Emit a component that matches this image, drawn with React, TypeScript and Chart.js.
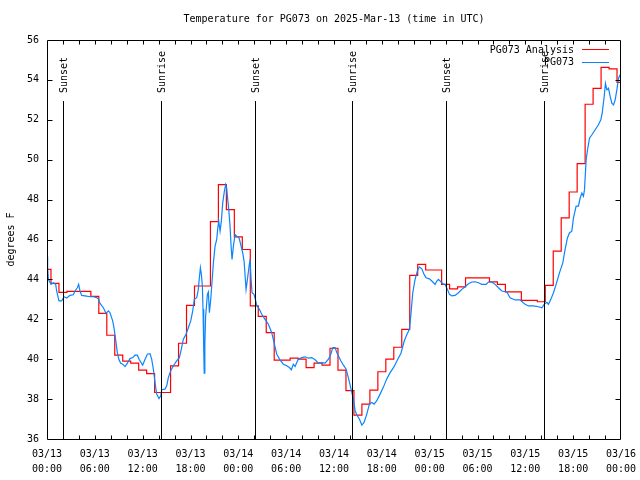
import { useEffect, useRef } from "react";
import { Chart, registerables } from "chart.js";

Chart.register(...registerables);

const TITLE = "Temperature for PG073 on 2025-Mar-13 (time in UTC)";
const Y_LABEL = "degrees F";
const ANALYSIS_LABEL = "PG073 Analysis";
const OBS_LABEL = "PG073";
const START_MONTH = "03";
const START_DAY = 13;

const Y_MIN = 36;
const Y_MAX = 56;
const X_MIN = 0;
const X_MAX = 72;

// Hourly analysis values (hour 0 .. 72 from 03/13 00:00 UTC)
const analysisTemps = [
  44.5, 43.8, 43.35, 43.4, 43.4, 43.4, 43.15, 42.3, 41.2, 40.2,
  39.9, 39.8, 39.45, 39.28, 38.33, 38.33, 39.67, 40.8, 42.7, 43.67,
  43.67, 46.9, 48.75, 47.5, 46.13, 45.5, 42.67, 42.15, 41.33, 39.95,
  39.95, 40.05, 40.0, 39.58, 39.8, 39.7, 40.55, 39.45, 38.42, 37.2,
  37.75, 38.45, 39.37, 40.0, 40.6, 41.5, 44.2, 44.75, 44.47, 44.47,
  43.75, 43.53, 43.63, 44.08, 44.08, 44.08, 43.88, 43.75, 43.37, 43.37,
  42.95, 42.95, 42.88, 43.7, 45.42, 47.08, 48.38, 49.8, 52.78, 53.58,
  54.63, 54.55, 53.88,
];

// Observations: hours since 03/13 00:00 UTC and temperatures
const obsHours = [
  0.0, 0.08, 0.17, 0.5, 0.8, 1.09, 1.21, 1.5, 1.84, 2.13, 2.47, 2.89, 3.3, 3.51, 3.8, 3.97,
  4.14, 4.35, 4.77, 5.4, 5.81, 6.15, 6.44, 6.65, 7.07, 7.4, 7.7, 7.9, 8.24, 8.4, 8.66, 8.82,
  9.03, 9.25, 9.5, 9.79, 10.08, 10.41, 10.75, 11.04, 11.33, 11.58, 12.0, 12.3, 12.59, 12.92,
  13.13, 13.34, 13.55, 13.76, 14.05, 14.27, 14.39, 14.8, 15.02, 15.22, 15.52, 15.85, 16.27,
  16.6, 16.85, 17.1, 17.44, 17.73, 18.03, 18.28, 18.48, 18.78, 18.98, 19.11, 19.24, 19.36,
  19.49, 19.57, 19.66, 19.72, 19.8, 19.9, 20.12, 20.24, 20.37, 20.54, 20.66, 20.87, 21.08,
  21.29, 21.42, 21.54, 21.71, 21.87, 22.04, 22.25, 22.42, 22.54, 22.67, 22.8, 22.96, 23.09,
  23.21, 23.38, 23.59, 23.8, 24.09, 24.3, 24.55, 24.72, 24.97, 25.14, 25.35, 25.47, 25.6,
  25.72, 25.97, 26.14, 26.31, 26.64, 26.94, 27.35, 27.77, 28.19, 28.48, 28.82, 29.23, 29.65,
  30.07, 30.4, 30.65, 30.9, 31.12, 31.33, 31.53, 31.96, 32.37, 32.79, 33.21, 33.63, 34.04,
  34.47, 34.88, 35.3, 35.6, 35.85, 36.14, 36.35, 36.55, 36.85, 37.18, 37.52, 37.8, 38.14,
  38.43, 38.65, 38.86, 39.18, 39.49, 39.77, 40.11, 40.44, 40.74, 41.03, 41.37, 41.78, 42.2,
  42.6, 43.0, 43.5, 44.0, 44.4, 44.8, 45.1, 45.46, 45.63, 45.88, 46.17, 46.46, 46.71, 47.01,
  47.3, 47.55, 47.97, 48.27, 48.68, 48.9, 49.1, 49.4, 49.65, 49.94, 50.23, 50.48, 50.78,
  51.19, 51.61, 52.03, 52.45, 52.86, 53.29, 53.7, 54.12, 54.54, 55.08, 55.37, 55.8, 56.21,
  56.63, 57.05, 57.68, 58.09, 58.72, 59.35, 59.97, 60.39, 61.02, 61.64, 62.07, 62.36, 62.7,
  62.9, 63.2, 63.53, 63.86, 64.28, 64.7, 64.99, 65.28, 65.53, 65.83, 66.04, 66.37, 66.66,
  66.88, 67.09, 67.29, 67.42, 67.63, 67.8, 68.05, 68.35, 68.76, 69.17, 69.47, 69.64, 69.89,
  70.05, 70.23, 70.43, 70.64, 70.85, 71.06, 71.27, 71.48, 71.68, 71.9, 72.0,
];
const obsTemps = [
  45.15, 44.6, 44.0, 43.75, 43.83, 43.75, 43.42, 42.92, 42.92, 43.13, 43.07, 43.2, 43.23, 43.42, 43.58, 43.75,
  43.42, 43.2, 43.17, 43.13, 43.13, 43.1, 43.03, 42.8, 42.58, 42.3, 42.42, 42.33, 41.92, 41.58, 40.83, 40.33,
  39.97, 39.8, 39.75, 39.63, 39.8, 40.03, 40.08, 40.2, 40.2, 39.97, 39.7, 40.0, 40.25, 40.28,
  40.0, 39.5, 38.83, 38.25, 38.03, 38.17, 38.47, 38.5, 38.67, 39.08, 39.42, 39.67, 39.92,
  40.08, 40.5, 41.0, 41.25, 41.58, 41.92, 42.42, 43.0, 43.08, 43.5, 44.08, 44.58, 44.25,
  43.67, 42.5, 40.5, 39.3, 40.8, 42.17, 43.25, 43.37, 42.33, 43.0, 43.67, 44.83, 45.67,
  46.0, 46.58, 46.92, 46.42, 46.92, 47.83, 48.42, 48.75, 48.58, 48.0, 47.5, 46.67, 45.67,
  45.0, 45.67, 46.25, 46.17, 46.08, 45.75, 45.33, 44.92, 43.5, 44.0, 44.67, 45.0, 44.0,
  43.33, 43.25, 43.0, 42.7, 42.5, 42.25, 42.0, 41.75, 41.33, 40.83, 40.25, 39.97, 39.75,
  39.67, 39.58, 39.47, 39.75, 39.63, 39.83, 40.0, 40.08, 40.12, 40.05, 40.08, 39.97, 39.8,
  39.83, 39.8, 40.0, 40.25, 40.58, 40.58, 40.33, 40.17, 39.92, 39.7, 39.5, 39.08, 38.5,
  38.0, 37.42, 37.2, 37.0, 36.7, 36.83, 37.25, 37.75, 37.83, 37.75, 37.92, 38.25, 38.6,
  39.0, 39.3, 39.6, 40.0, 40.3, 40.9, 41.2, 41.5, 42.17, 43.33, 44.0, 44.42, 44.63, 44.53,
  44.25, 44.08, 44.03, 43.92, 43.75, 43.92, 44.0, 43.88, 43.78, 43.75, 43.5, 43.25, 43.17,
  43.2, 43.33, 43.5, 43.63, 43.78, 43.87, 43.88, 43.83, 43.75, 43.75, 43.87, 43.87, 43.75,
  43.58, 43.42, 43.37, 43.08, 42.97, 42.97, 42.75, 42.67, 42.67, 42.63, 42.58, 42.75, 42.85,
  42.75, 43.0, 43.33, 43.75, 44.33, 44.83, 45.5, 46.08, 46.33, 46.42, 47.08, 47.67, 47.67,
  48.08, 48.33, 48.17, 48.5, 50.0, 50.5, 51.08, 51.25, 51.5, 51.75, 52.0, 52.33, 53.17,
  53.83, 53.5, 53.58, 53.17, 52.83, 52.75, 53.0, 53.5, 54.08, 54.25, 54.2,
];

const sunLabels = ["Sunset", "Sunrise", "Sunset", "Sunrise", "Sunset", "Sunrise"];
const sunHours = [2.05, 14.3, 26.05, 38.3, 50.05, 62.35];

const FONT_FAMILY = "'DejaVu Sans Mono', monospace";
const RED = "#ff0000";
const BLUE = "#0a84ff";

function pad2(n: number) {
  return n < 10 ? "0" + n : String(n);
}

const overlayPlugin = {
  id: "gnuplotOverlay",
  afterDatasetsDraw(chart: any) {
    const { ctx, chartArea, scales } = chart;
    const { left, right, top, bottom } = chartArea;
    const xs = scales.x;
    const ys = scales.y;
    const h = bottom - top;
    ctx.save();
    ctx.strokeStyle = "#000";
    ctx.fillStyle = "#000";
    ctx.lineWidth = 1;
    ctx.font = "10px " + FONT_FAMILY;

    // title, centred over the plot area
    ctx.textAlign = "center";
    ctx.textBaseline = "middle";
    ctx.fillText(TITLE, (left + right) / 2, top - 21);

    // sunrise / sunset markers
    sunHours.forEach((hr, i) => {
      const px = Math.round(xs.getPixelForValue(hr)) + 0.5;
      ctx.beginPath();
      ctx.moveTo(px, bottom);
      ctx.lineTo(px, top + h * 0.153);
      ctx.stroke();
      ctx.save();
      ctx.translate(px + 1, top + h * 0.133);
      ctx.rotate(-Math.PI / 2);
      ctx.textAlign = "left";
      ctx.textBaseline = "middle";
      ctx.fillText(sunLabels[i], 0, 0);
      ctx.restore();
    });

    // frame
    const L = Math.round(left) + 0.5;
    const R = Math.round(right) - 0.5;
    const T = Math.round(top) + 0.5;
    const B = Math.round(bottom) + 0.5;
    ctx.beginPath();
    ctx.moveTo(L, T);
    ctx.lineTo(R, T);
    ctx.lineTo(R, B);
    ctx.lineTo(L, B);
    ctx.closePath();
    ctx.stroke();

    // x ticks every 2 hours (top and bottom, inward)
    ctx.beginPath();
    for (let v = X_MIN + 2; v < X_MAX; v += 2) {
      const px = Math.round(xs.getPixelForValue(v)) + 0.5;
      ctx.moveTo(px, B);
      ctx.lineTo(px, B - 4);
      ctx.moveTo(px, T);
      ctx.lineTo(px, T + 4);
    }
    // y ticks every 2 degrees (left and right, inward)
    for (let v = Y_MIN + 2; v < Y_MAX; v += 2) {
      const py = Math.round(ys.getPixelForValue(v)) + 0.5;
      ctx.moveTo(L, py);
      ctx.lineTo(L + 5, py);
      ctx.moveTo(R, py);
      ctx.lineTo(R - 5, py);
    }
    ctx.stroke();

    // legend (gnuplot style, top right inside)
    const items = [
      { label: ANALYSIS_LABEL, color: RED },
      { label: OBS_LABEL, color: BLUE },
    ];
    ctx.textAlign = "right";
    ctx.textBaseline = "middle";
    items.forEach((it, i) => {
      const ty = top + 10 + i * 12.5;
      ctx.fillStyle = "#000";
      ctx.fillText(it.label, right - 47, ty);
      ctx.strokeStyle = it.color;
      ctx.beginPath();
      ctx.moveTo(right - 39, Math.round(ty) - 0.5);
      ctx.lineTo(right - 12, Math.round(ty) - 0.5);
      ctx.stroke();
    });
    ctx.restore();
  },
};

export default function App() {
  const ref = useRef<HTMLCanvasElement | null>(null);

  useEffect(() => {
    if (!ref.current) return;
    const analysisData = analysisTemps.map((t, i) => ({ x: X_MIN + i, y: t }));
    const obsData = obsHours.map((hr, i) => ({ x: hr, y: obsTemps[i] }));

    const chart = new Chart(ref.current, {
      type: "line",
      data: {
        datasets: [
          {
            label: ANALYSIS_LABEL,
            data: analysisData,
            borderColor: RED,
            borderWidth: 1.2,
            pointRadius: 0,
            stepped: "middle",
            fill: false,
            order: 2,
          },
          {
            label: OBS_LABEL,
            data: obsData,
            borderColor: BLUE,
            borderWidth: 1.2,
            pointRadius: 0,
            tension: 0,
            fill: false,
            order: 1,
          },
        ],
      },
      options: {
        responsive: false,
        animation: false,
        devicePixelRatio: 1,
        layout: { padding: { left: 0, right: 19, top: 40, bottom: 0 } },
        plugins: {
          legend: { display: false },
          tooltip: { enabled: false },
          title: { display: false },
        },
        scales: {
          x: {
            type: "linear",
            min: X_MIN,
            max: X_MAX,
            grid: { display: false, drawTicks: false },
            border: { display: false },
            ticks: {
              stepSize: 6,
              autoSkip: false,
              maxRotation: 0,
              minRotation: 0,
              padding: 8,
              color: "#000",
              font: { family: FONT_FAMILY, size: 10, lineHeight: 1.5 },
              callback: (value: any) => {
                const v = Number(value);
                const day = START_DAY + Math.floor(v / 24);
                const hr = v % 24;
                return [START_MONTH + "/" + pad2(day), pad2(hr) + ":00"];
              },
            },
            afterFit: (scale: any) => {
              scale.height = 41;
              scale.paddingLeft = 0;
              scale.paddingRight = 0;
            },
          },
          y: {
            min: Y_MIN,
            max: Y_MAX,
            grid: { display: false, drawTicks: false },
            border: { display: false },
            ticks: {
              stepSize: 2,
              padding: 8,
              color: "#000",
              font: { family: FONT_FAMILY, size: 10 },
            },
            title: {
              display: true,
              text: Y_LABEL,
              color: "#000",
              font: { family: FONT_FAMILY, size: 10, lineHeight: 1.2 },
              padding: { top: 5, bottom: 0 },
            },
            afterFit: (scale: any) => {
              scale.width = 47;
              scale.paddingTop = 0;
              scale.paddingBottom = 0;
            },
          },
        },
      },
      plugins: [overlayPlugin],
    });
    return () => chart.destroy();
  }, []);

  return (
    <div style={{ position: "absolute", left: 0, top: 0, width: 640, height: 480, background: "#fff" }}>
      <canvas ref={ref} width={640} height={480} />
    </div>
  );
}
